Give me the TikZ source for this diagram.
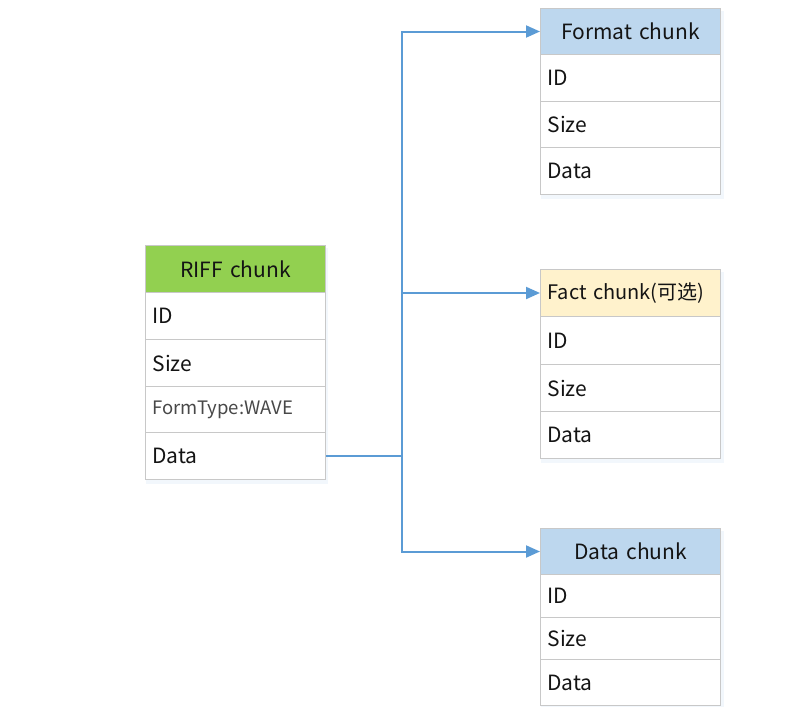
\documentclass[tikz,border=0pt]{standalone}
\usepackage{fontspec}
\setmainfont{Noto Sans CJK SC}
\usetikzlibrary{arrows.meta}
\definecolor{lineblue}{HTML}{5B9BD5}
\definecolor{cellgray}{HTML}{C8C8C8}
\definecolor{hdgreen}{HTML}{92D050}
\definecolor{hdblue}{HTML}{BDD7EE}
\definecolor{hdyellow}{HTML}{FFF2CC}
\definecolor{txt}{HTML}{141414}
\begin{document}
\begin{tikzpicture}[x=1pt,y=-1pt,
  cellbox/.style={draw=cellgray, line width=1pt, fill=white, anchor=north west,
    minimum width=180pt, text width=166pt, inner xsep=7pt, inner ysep=0pt,
    align=left, text=txt, font=\fontsize{21}{23}\selectfont},
  headbox/.style={cellbox, align=center},
  conn/.style={draw=lineblue, line width=2pt},
  arr/.style={conn, -{Triangle[length=14pt,width=12pt]}}]
\useasboundingbox (0,0) rectangle (808,707);

% shadows of the tables
\fill[lineblue!8] (146,248) rectangle (328,484);
\fill[lineblue!8] (541,11) rectangle (724,199);
\fill[lineblue!8] (541,272) rectangle (724,463);
\fill[lineblue!8] (541,531) rectangle (724,707);

% RIFF chunk
\node[headbox, fill=hdgreen, minimum height=47pt] (r0) at (145,245) {RIFF chunk};
\node[cellbox, minimum height=47pt] (r1) at (145,292) {ID};
\node[cellbox, minimum height=47pt] (r2) at (145,339) {Size};
\node[cellbox, minimum height=46pt, font=\fontsize{18.5}{20}\selectfont, text=txt!78] (r3) at (145,386) {FormType:WAVE};
\node[cellbox, minimum height=47pt] (r4) at (145,432) {Data};

% Format chunk
\node[headbox, fill=hdblue, minimum height=46pt] (f0) at (540,8) {Format chunk};
\node[cellbox, minimum height=47pt] (f1) at (540,54) {ID};
\node[cellbox, minimum height=46pt] (f2) at (540,101) {Size};
\node[cellbox, minimum height=47pt] (f3) at (540,147) {Data};

% Fact chunk
\node[cellbox, fill=hdyellow, minimum height=47pt, font=\fontsize{20}{22}\selectfont] (c0) at (540,269) {Fact chunk(可选)};
\node[cellbox, minimum height=48pt] (c1) at (540,316) {ID};
\node[cellbox, minimum height=47pt] (c2) at (540,364) {Size};
\node[cellbox, minimum height=47pt] (c3) at (540,411) {Data};

% Data chunk
\node[headbox, fill=hdblue, minimum height=46pt] (d0) at (540,528) {Data chunk};
\node[cellbox, minimum height=43pt] (d1) at (540,574) {ID};
\node[cellbox, minimum height=42pt] (d2) at (540,617) {Size};
\node[cellbox, minimum height=46pt] (d3) at (540,659) {Data};

% connectors
\coordinate (bus) at (402,456);
\draw[conn] (r4.east) -- (bus);
\draw[arr] (bus) |- (f0.west);
\draw[arr] (bus) |- (c0.west);
\draw[arr] (bus) |- (d0.west);
\end{tikzpicture}
\end{document}
